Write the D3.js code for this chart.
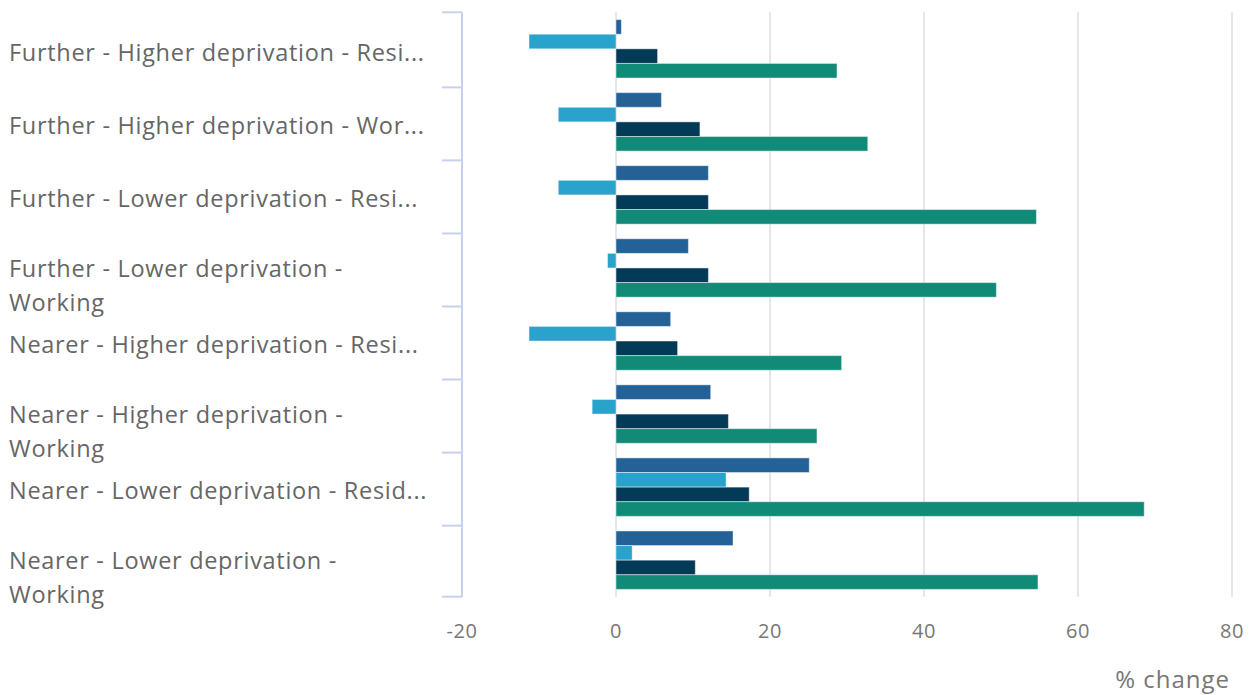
<!DOCTYPE html>
<html>
<head>
<meta charset="utf-8">
<script src="https://cdn.jsdelivr.net/npm/d3@7"></script>
<style>
  html, body { margin: 0; padding: 0; background: #fff; }
  svg { display: block; font-family: "Open Sans", "Noto Sans", sans-serif; }
</style>
</head>
<body>
<svg id="chart" width="1255" height="695"></svg>
<script>
// Area types, grouped by distance and deprivation
const categories = [
  "Further - Higher deprivation - Residential",
  "Further - Higher deprivation - Working",
  "Further - Lower deprivation - Residential",
  "Further - Lower deprivation - Working",
  "Nearer - Higher deprivation - Residential",
  "Nearer - Higher deprivation - Working",
  "Nearer - Lower deprivation - Residential",
  "Nearer - Lower deprivation - Working"
];

// Category labels as laid out on the axis (truncated or wrapped)
const categoryLabels = [
  ["Further - Higher deprivation - Resi..."],
  ["Further - Higher deprivation - Wor..."],
  ["Further - Lower deprivation - Resi..."],
  ["Further - Lower deprivation -", "Working"],
  ["Nearer - Higher deprivation - Resi..."],
  ["Nearer - Higher deprivation -", "Working"],
  ["Nearer - Lower deprivation - Resid..."],
  ["Nearer - Lower deprivation -", "Working"]
];

// % change per series, one value per category
const series1 = [0.7, 5.9, 12.0, 9.4, 7.1, 12.3, 25.1, 15.2];
const series2 = [-11.3, -7.5, -7.5, -1.1, -11.3, -3.1, 14.3, 2.1];
const series3 = [5.4, 10.9, 12.0, 12.0, 8.0, 14.6, 17.3, 10.3];
const series4 = [28.7, 32.7, 54.6, 49.4, 29.3, 26.1, 68.6, 54.8];

const seriesKeys = ["series1", "series2", "series3", "series4"];
const seriesColors = ["#236196", "#29a2cc", "#033a57", "#128a78"];

const xTicks = [-20, 0, 20, 40, 60, 80];
const xDomain = [-20, 80];
const axisTitle = "% change";

const rows = categories.map((c, i) => ({
  category: c,
  lines: categoryLabels[i],
  values: [series1[i], series2[i], series3[i], series4[i]]
}));

const svg = d3.select("#chart");

const plot = { left: 462, right: 1232, top: 12.3, bottom: 596.7 };

const x = d3.scaleLinear().domain(xDomain).range([plot.left, plot.right]);

const y = d3.scaleBand()
  .domain(categories)
  .range([plot.top, plot.bottom])
  .paddingInner(0.2)
  .paddingOuter(0.1);

const ySub = d3.scaleBand()
  .domain(seriesKeys)
  .range([0, y.bandwidth()]);

// vertical gridlines
svg.append("g")
  .selectAll("line")
  .data(xTicks.filter(t => t !== xDomain[0]))
  .join("line")
  .attr("x1", d => x(d)).attr("x2", d => x(d))
  .attr("y1", plot.top).attr("y2", plot.bottom)
  .attr("stroke", "#e6e6e6")
  .attr("stroke-width", 2);

// bars
const groups = svg.append("g")
  .selectAll("g")
  .data(rows)
  .join("g")
  .attr("transform", d => `translate(0,${y(d.category)})`);

groups.selectAll("rect")
  .data(d => d.values.map((v, k) => ({ key: seriesKeys[k], value: v, color: seriesColors[k] })))
  .join("rect")
  .attr("x", d => x(Math.min(0, d.value)))
  .attr("width", d => Math.abs(x(d.value) - x(0)))
  .attr("y", d => ySub(d.key))
  .attr("height", ySub.bandwidth())
  .attr("fill", d => d.color)
  .attr("stroke", "rgba(255,255,255,0.45)")
  .attr("stroke-width", 1);

// category axis: bracket-like line with ticks between categories
const step = y.step();
const boundaries = d3.range(categories.length + 1).map(i => {
  if (i === 0) return plot.top;
  if (i === categories.length) return plot.bottom;
  return y(categories[i]) - (step - y.bandwidth()) / 2 + 2;
});

const yAxisG = svg.append("g");
yAxisG.append("line")
  .attr("x1", plot.left).attr("x2", plot.left)
  .attr("y1", plot.top).attr("y2", plot.bottom)
  .attr("stroke", "#c8d1ec").attr("stroke-width", 2);
yAxisG.selectAll("line.tick")
  .data(boundaries)
  .join("line")
  .attr("class", "tick")
  .attr("x1", plot.left - 20).attr("x2", plot.left)
  .attr("y1", d => d).attr("y2", d => d)
  .attr("stroke", "#c8d1ec").attr("stroke-width", 2);

// category labels
const labelG = svg.append("g");
rows.forEach(r => {
  const cy = y(r.category) + y.bandwidth() / 2;
  const t = labelG.append("text")
    .attr("x", 9)
    .attr("fill", "#666666")
    .attr("font-size", 23.5)
    .attr("letter-spacing", 0.7);
  const first = r.lines.length > 1 ? cy + 9.3 : cy + 11.8;
  r.lines.forEach((line, j) => {
    t.append("tspan")
      .attr("x", 9)
      .attr("y", first + j * 34)
      .text(line);
  });
});

// value axis labels
svg.append("g")
  .selectAll("text")
  .data(xTicks)
  .join("text")
  .attr("x", d => x(d))
  .attr("y", 638)
  .attr("text-anchor", "middle")
  .attr("font-size", 20)
  .attr("letter-spacing", 0.5)
  .attr("fill", "#777777")
  .text(d => String(d));

// axis title
svg.append("text")
  .attr("x", 1230)
  .attr("y", 688)
  .attr("text-anchor", "end")
  .attr("font-size", 24)
  .attr("letter-spacing", 1)
  .attr("fill", "#777777")
  .text(axisTitle);
</script>
</body>
</html>
